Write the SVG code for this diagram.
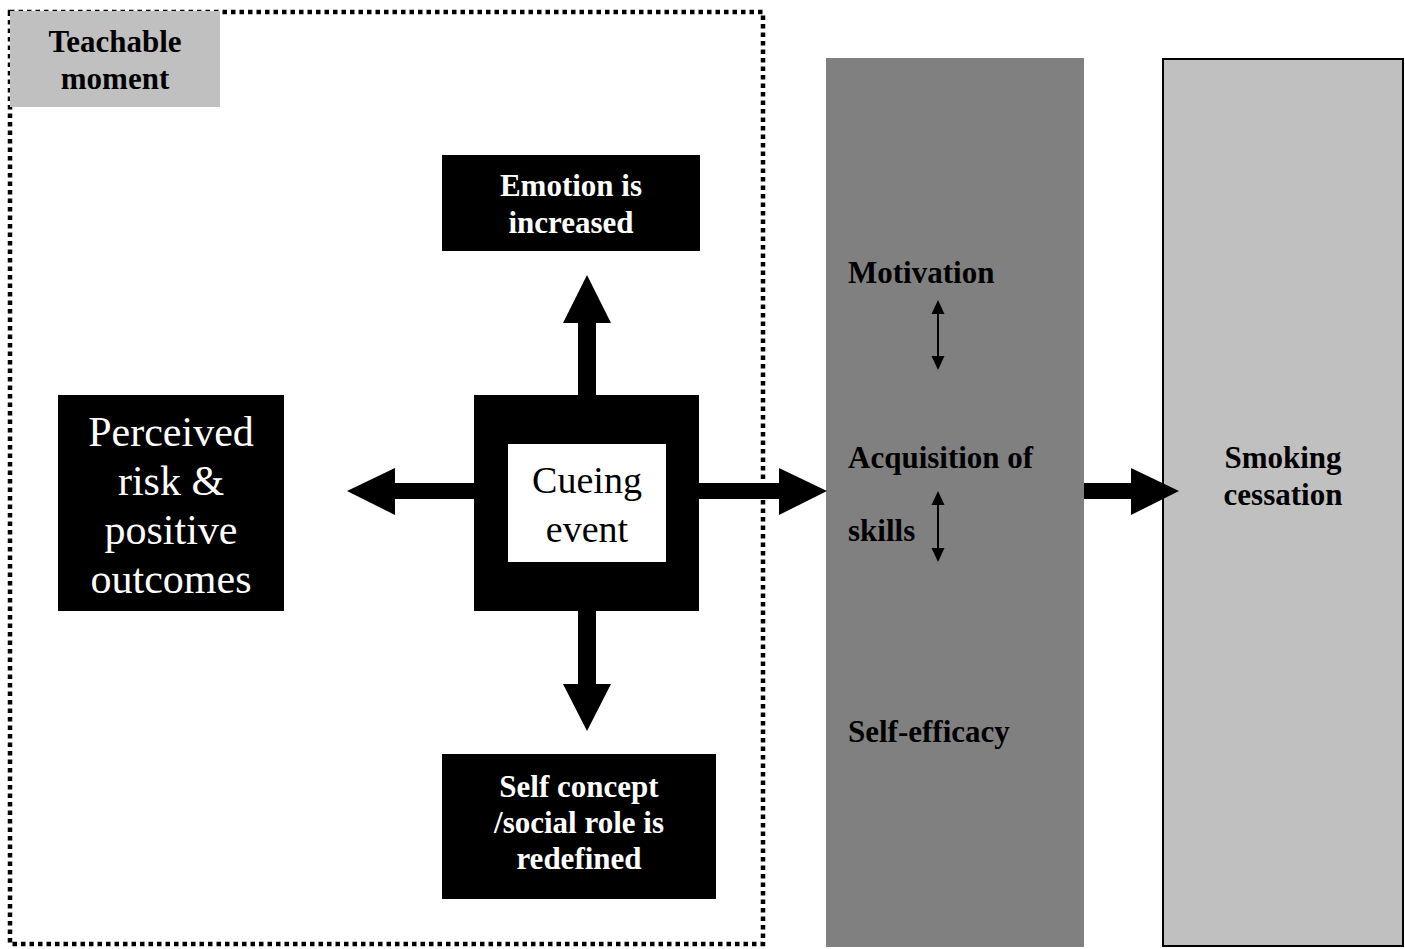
<svg xmlns="http://www.w3.org/2000/svg" width="1405" height="949" viewBox="0 0 1405 949">
<style>
.b{font-family:"Liberation Serif","Times New Roman",serif;font-weight:bold;font-size:31px;}
.r{font-family:"Liberation Serif","Times New Roman",serif;}
.w{fill:#fff;}
.k{fill:#000;}
.c{text-anchor:middle;}
</style>
<defs>
<marker id="ah" markerWidth="14" markerHeight="14" refX="8" refY="7" orient="auto-start-reverse" markerUnits="userSpaceOnUse" viewBox="0 0 14 14">
<path d="M0,0.5 L14,7 L0,13.5 z" fill="#000"/>
</marker>
</defs>
<rect width="1405" height="949" fill="#fff"/>
<g id="frame">
<rect x="10" y="12" width="753" height="932" fill="none" stroke="#000" stroke-width="4.5" stroke-dasharray="4.5 4"/>
</g>
<g id="teachable">
<rect x="10" y="11" width="210" height="96" fill="#c0c0c0"/>
<text class="b c k" x="115" y="52">Teachable</text>
<text class="b c k" x="115" y="89">moment</text>
</g>
<g id="emotion">
<rect x="442" y="155" width="258" height="96" fill="#000"/>
<text class="b c w" x="571" y="196">Emotion is</text>
<text class="b c w" x="571" y="233">increased</text>
</g>
<g id="cueing">
<rect x="474" y="395" width="225" height="216" fill="#000"/>
<rect x="508" y="444" width="158" height="118" fill="#fff"/>
<text class="r c k" x="587" y="493" font-size="38">Cueing</text>
<text class="r c k" x="587" y="542" font-size="38">event</text>
</g>
<g id="perceived">
<rect x="58" y="395" width="226" height="216" fill="#000"/>
<text class="r c w" x="171" y="446" font-size="42">Perceived</text>
<text class="r c w" x="171" y="495" font-size="42">risk &amp;</text>
<text class="r c w" x="171" y="544" font-size="42">positive</text>
<text class="r c w" x="171" y="593" font-size="42">outcomes</text>
</g>
<g id="selfconcept">
<rect x="442" y="754" width="274" height="145" fill="#000"/>
<text class="b c w" x="579" y="797">Self concept</text>
<text class="b c w" x="579" y="833">/social role is</text>
<text class="b c w" x="579" y="869">redefined</text>
</g>
<g id="mediators">
<rect x="826" y="58" width="258" height="889" fill="#808080"/>
<text class="b k" x="848" y="283">Motivation</text>
<text class="b k" x="848" y="468">Acquisition of</text>
<text class="b k" x="848" y="541">skills</text>
<text class="b k" x="848" y="742">Self-efficacy</text>
</g>
<g id="cessation">
<rect x="1163" y="59" width="240" height="887" fill="#c0c0c0" stroke="#000" stroke-width="2"/>
<text class="b c k" x="1283" y="468">Smoking</text>
<text class="b c k" x="1283" y="505">cessation</text>
</g>
<g id="connectors" fill="#000">
<polygon points="578,395 578,323 563,323 587,275 611,323 596,323 596,395"/>
<polygon points="578,611 578,684 563,684 587,731 611,684 596,684 596,611"/>
<polygon points="474,483 395,483 395,468 347,491 395,515 395,499 474,499"/>
<polygon points="699,483 779,483 779,468 827,491 779,515 779,499 699,499"/>
<polygon points="1084,483 1131,483 1131,468 1179,491 1131,515 1131,499 1084,499"/>
<line x1="938" y1="306" x2="938" y2="364" stroke="#000" stroke-width="2" marker-start="url(#ah)" marker-end="url(#ah)"/>
<line x1="938" y1="497" x2="938" y2="556" stroke="#000" stroke-width="2" marker-start="url(#ah)" marker-end="url(#ah)"/>
</g>
</svg>
